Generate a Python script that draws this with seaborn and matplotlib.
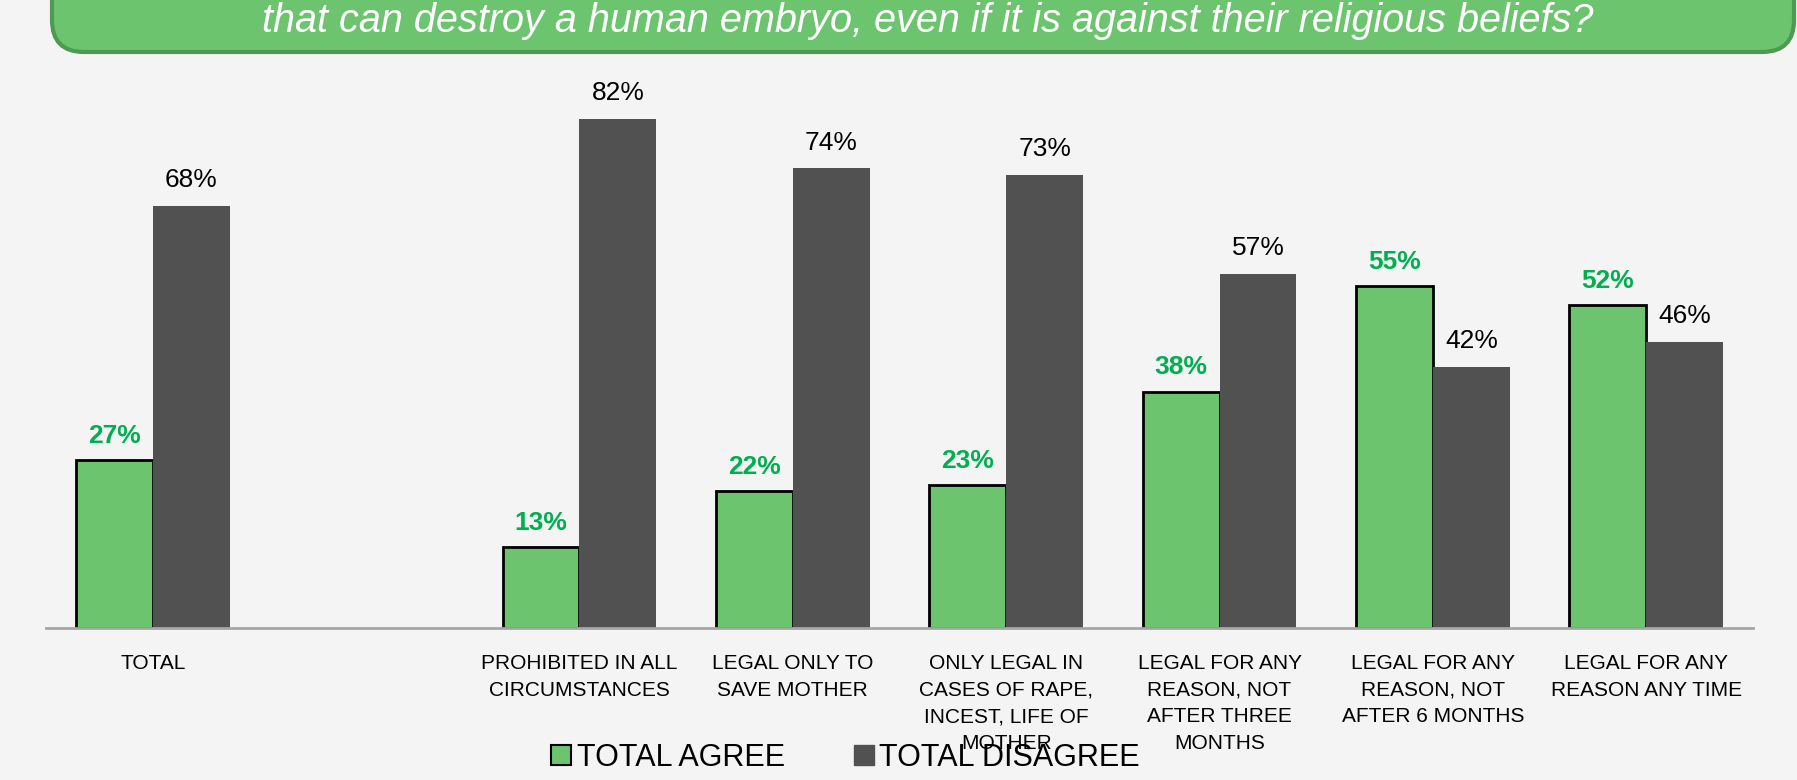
import pandas as pd
import matplotlib.pyplot as plt
from matplotlib.patches import FancyBboxPatch
from matplotlib.lines import Line2D
import seaborn as sns

# chart values
categories = ["TOTAL", " ",
              "PROHIBITED IN ALL\nCIRCUMSTANCES",
              "LEGAL ONLY TO\nSAVE MOTHER",
              "ONLY LEGAL IN\nCASES OF RAPE,\nINCEST, LIFE OF\nMOTHER",
              "LEGAL FOR ANY\nREASON, NOT\nAFTER THREE\nMONTHS",
              "LEGAL FOR ANY\nREASON, NOT\nAFTER 6 MONTHS",
              "LEGAL FOR ANY\nREASON ANY TIME"]
agree = [27, None, 13, 22, 23, 38, 55, 52]
disagree = [68, None, 82, 74, 73, 57, 42, 46]
series = ["TOTAL AGREE", "TOTAL DISAGREE"]
title = "that can destroy a human embryo, even if it is against their religious beliefs?"

green = "#6dc46f"
dark = "#515151"
label_green = "#00b050"
bg = "#f4f4f4"

rows = []
for c, a, d in zip(categories, agree, disagree):
    if a is not None:
        rows.append({"cat": c, "series": series[0], "pct": a})
        rows.append({"cat": c, "series": series[1], "pct": d})
df = pd.DataFrame(rows)

sns.set_style("white")
plt.rcParams["font.family"] = ["Liberation Sans", "DejaVu Sans"]
plt.rcParams["text.color"] = "black"
plt.rcParams["xtick.color"] = "black"

fig = plt.figure(figsize=(17.97, 7.8), dpi=100, facecolor=bg)
ax = fig.add_axes([0.0256, 0.1949, 0.9499, 0.7166])
ax.set_facecolor(bg)

sns.barplot(data=df, x="cat", y="pct", hue="series", order=categories,
            hue_order=series, palette=[green, dark], width=0.72, gap=0,
            saturation=1, ax=ax, legend=False)

# black outline only on the green bars
for bar in ax.containers[0]:
    bar.set_edgecolor("black")
    bar.set_linewidth(2)
for bar in ax.containers[1]:
    bar.set_edgecolor(dark)
    bar.set_linewidth(0)

ax.bar_label(ax.containers[0], fmt="{:.0f}%", padding=9, fontsize=19,
             fontweight="bold", color=label_green)
ax.bar_label(ax.containers[1], fmt="{:.0f}%", padding=10, fontsize=19,
             color="black")

ax.set_xlim(-0.5, 7.5)
ax.set_ylim(0, 90)
ax.set_xlabel("")
ax.set_ylabel("")
ax.set_yticks([])
ax.tick_params(axis="x", length=0, pad=19, labelsize=15, labelcolor="black")
for lbl in ax.get_xticklabels():
    lbl.set_linespacing(1.5)
for s in ["top", "right", "left"]:
    ax.spines[s].set_visible(False)
ax.spines["bottom"].set_color("#a6a6a6")
ax.spines["bottom"].set_linewidth(2)

# legend
handles = [Line2D([], [], marker="s", linestyle="", markersize=14,
                  markerfacecolor=green, markeredgecolor="black", markeredgewidth=1.5),
           Line2D([], [], marker="s", linestyle="", markersize=14,
                  markerfacecolor=dark, markeredgecolor=dark)]
fig.legend(handles, series, loc="center", bbox_to_anchor=(0.47, 0.028),
           ncol=2, frameon=False, fontsize=22, handletextpad=0.1,
           columnspacing=2.2, handlelength=0.8, labelcolor="black")

# green title banner
banner = FancyBboxPatch((0.52, 7.28), 17.42, 1.0,
                        boxstyle="round,pad=0,rounding_size=0.32",
                        transform=fig.dpi_scale_trans, facecolor=green,
                        edgecolor="#4f9a52", linewidth=3, zorder=5)
fig.patches.append(banner)
fig.text(928 / 1797, 1 - 21 / 780, title, ha="center", va="center",
         fontsize=28.5, style="italic", color="white", zorder=6)

fig.savefig("out.png", dpi=100, facecolor=bg)
